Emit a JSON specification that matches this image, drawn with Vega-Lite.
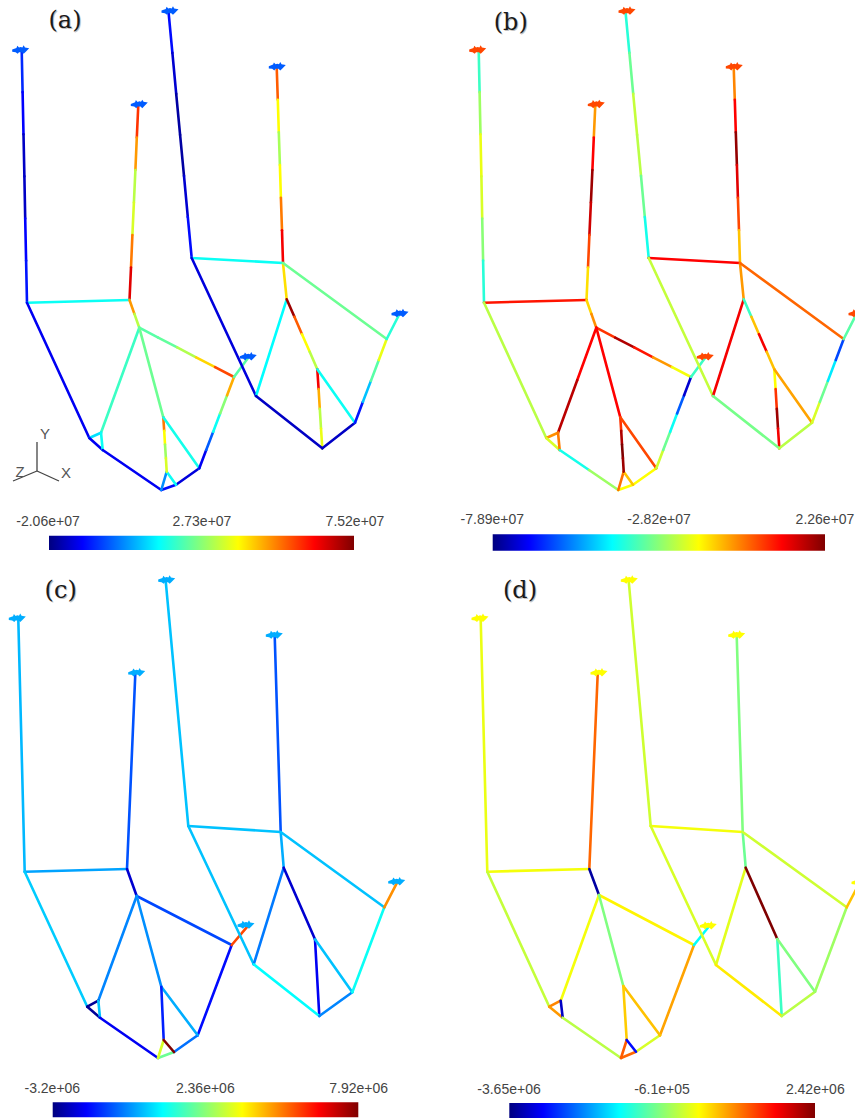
{"$schema":"https://vega.github.io/schema/vega-lite/v6.json","width":855,"height":1118,"padding":0,"autosize":"none","background":"white","view":{"stroke":null},
"datasets":{
"members":[
{"p":"a","m":"T1","x":21.7,"y":50,"x2":22.6,"y2":92.1,"v":0.15},{"p":"a","m":"T1","x":22.6,"y":92.1,"x2":23.5,"y2":134.2,"v":0.11},{"p":"a","m":"T1","x":23.5,"y":134.2,"x2":24.4,"y2":176.4,"v":0.06},{"p":"a","m":"T1","x":24.4,"y":176.4,"x2":25.2,"y2":218.5,"v":0.06},{"p":"a","m":"T1","x":25.2,"y":218.5,"x2":26.1,"y2":260.6,"v":0.11},{"p":"a","m":"T1","x":26.1,"y":260.6,"x2":27,"y2":302.7,"v":0.13},
{"p":"a","m":"T2","x":138.3,"y":105,"x2":136.8,"y2":137.5,"v":0.82},{"p":"a","m":"T2","x":136.8,"y":137.5,"x2":135.4,"y2":170,"v":0.72},{"p":"a","m":"T2","x":135.4,"y":170,"x2":133.9,"y2":202.5,"v":0.55},{"p":"a","m":"T2","x":133.9,"y":202.5,"x2":132.4,"y2":235,"v":0.58},{"p":"a","m":"T2","x":132.4,"y":235,"x2":131,"y2":267.5,"v":0.75},{"p":"a","m":"T2","x":131,"y":267.5,"x2":129.5,"y2":300,"v":0.9},
{"p":"a","m":"T3","x":168.5,"y":11.7,"x2":172.4,"y2":52.8,"v":0.12},{"p":"a","m":"T3","x":172.4,"y":52.8,"x2":176.2,"y2":93.8,"v":0.07},{"p":"a","m":"T3","x":176.2,"y":93.8,"x2":180.1,"y2":134.9,"v":0.03},{"p":"a","m":"T3","x":180.1,"y":134.9,"x2":184,"y2":175.9,"v":0.03},{"p":"a","m":"T3","x":184,"y":175.9,"x2":187.8,"y2":217,"v":0.07},{"p":"a","m":"T3","x":187.8,"y":217,"x2":191.7,"y2":258,"v":0.12},
{"p":"a","m":"T4","x":276.7,"y":67,"x2":277.8,"y2":99.7,"v":0.78},{"p":"a","m":"T4","x":277.8,"y":99.7,"x2":278.8,"y2":132.3,"v":0.62},{"p":"a","m":"T4","x":278.8,"y":132.3,"x2":279.9,"y2":165,"v":0.53},{"p":"a","m":"T4","x":279.9,"y":165,"x2":280.9,"y2":197.7,"v":0.62},{"p":"a","m":"T4","x":280.9,"y":197.7,"x2":282,"y2":230.3,"v":0.75},{"p":"a","m":"T4","x":282,"y":230.3,"x2":283,"y2":263,"v":0.88},
{"p":"a","m":"B1B2","x":27,"y":302.7,"x2":129.5,"y2":300,"v":0.37},{"p":"a","m":"B3B4","x":191.7,"y":258,"x2":283,"y2":263,"v":0.37},
{"p":"a","m":"B2C","x":129.5,"y":300,"x2":134.4,"y2":313.9,"v":0.72},{"p":"a","m":"B2C","x":134.4,"y":313.9,"x2":139.3,"y2":327.7,"v":0.55},
{"p":"a","m":"CD","x":139.3,"y":327.7,"x2":158.2,"y2":337.6,"v":0.45},{"p":"a","m":"CD","x":158.2,"y":337.6,"x2":177.2,"y2":347.4,"v":0.46},{"p":"a","m":"CD","x":177.2,"y":347.4,"x2":196.1,"y2":357.3,"v":0.54},{"p":"a","m":"CD","x":196.1,"y":357.3,"x2":215.1,"y2":367.1,"v":0.66},{"p":"a","m":"CD","x":215.1,"y":367.1,"x2":234,"y2":377,"v":0.8},
{"p":"a","m":"CE","x":139.3,"y":327.7,"x2":101,"y2":432.7,"v":0.42},{"p":"a","m":"CF","x":139.3,"y":327.7,"x2":163.3,"y2":417.3,"v":0.47},
{"p":"a","m":"B1G","x":27,"y":302.7,"x2":89.3,"y2":438,"v":0.1},{"p":"a","m":"GE","x":89.3,"y":438,"x2":101,"y2":432.7,"v":0.33},{"p":"a","m":"GH","x":89.3,"y":438,"x2":102.7,"y2":450,"v":0.1},{"p":"a","m":"EH","x":101,"y":432.7,"x2":102.7,"y2":450,"v":0.37},
{"p":"a","m":"HI","x":102.7,"y":450,"x2":161.3,"y2":490,"v":0.1},{"p":"a","m":"IJ","x":161.3,"y":490,"x2":176,"y2":484.7,"v":0.12},{"p":"a","m":"JK","x":176,"y":484.7,"x2":199.3,"y2":468.3,"v":0.08},{"p":"a","m":"IL","x":161.3,"y":490,"x2":166.7,"y2":471.7,"v":0.25},{"p":"a","m":"LJ","x":166.7,"y":471.7,"x2":176,"y2":484.7,"v":0.37},
{"p":"a","m":"FL","x":163.3,"y":417.3,"x2":164.2,"y2":430.9,"v":0.75},{"p":"a","m":"FL","x":164.2,"y":430.9,"x2":165,"y2":444.5,"v":0.62},{"p":"a","m":"FL","x":165,"y":444.5,"x2":165.9,"y2":458.1,"v":0.52},{"p":"a","m":"FL","x":165.9,"y":458.1,"x2":166.7,"y2":471.7,"v":0.58},
{"p":"a","m":"FK","x":163.3,"y":417.3,"x2":199.3,"y2":468.3,"v":0.38},
{"p":"a","m":"KD","x":199.3,"y":468.3,"x2":206.2,"y2":450,"v":0.1},{"p":"a","m":"KD","x":206.2,"y":450,"x2":213.2,"y2":431.8,"v":0.2},{"p":"a","m":"KD","x":213.2,"y":431.8,"x2":220.1,"y2":413.5,"v":0.37},{"p":"a","m":"KD","x":220.1,"y":413.5,"x2":227.1,"y2":395.3,"v":0.5},{"p":"a","m":"KD","x":227.1,"y":395.3,"x2":234,"y2":377,"v":0.7},
{"p":"a","m":"DM","x":234,"y":377,"x2":248,"y2":358,"v":0.45},
{"p":"a","m":"B3P","x":191.7,"y":258,"x2":256,"y2":396,"v":0.08},{"p":"a","m":"PN","x":256,"y":396,"x2":286.7,"y2":299.3,"v":0.36},{"p":"a","m":"B4N","x":283,"y":263,"x2":286.7,"y2":299.3,"v":0.65},
{"p":"a","m":"NQ","x":286.7,"y":299.3,"x2":294.4,"y2":316.8,"v":0.97},{"p":"a","m":"NQ","x":294.4,"y":316.8,"x2":302,"y2":334.3,"v":0.78},{"p":"a","m":"NQ","x":302,"y":334.3,"x2":309.7,"y2":351.8,"v":0.62},{"p":"a","m":"NQ","x":309.7,"y":351.8,"x2":317.3,"y2":369.3,"v":0.55},
{"p":"a","m":"QR","x":317.3,"y":369.3,"x2":318.6,"y2":389,"v":0.88},{"p":"a","m":"QR","x":318.6,"y":389,"x2":319.8,"y2":408.8,"v":0.7},{"p":"a","m":"QR","x":319.8,"y":408.8,"x2":321,"y2":428.5,"v":0.55},{"p":"a","m":"QR","x":321,"y":428.5,"x2":322.3,"y2":448.3,"v":0.6},
{"p":"a","m":"PR","x":256,"y":396,"x2":322.3,"y2":448.3,"v":0.06},{"p":"a","m":"RS","x":322.3,"y":448.3,"x2":355,"y2":422.7,"v":0.06},{"p":"a","m":"SQ","x":355,"y":422.7,"x2":317.3,"y2":369.3,"v":0.37},
{"p":"a","m":"SU","x":355,"y":422.7,"x2":362.9,"y2":401.8,"v":0.13},{"p":"a","m":"SU","x":362.9,"y":401.8,"x2":370.9,"y2":380.9,"v":0.3},{"p":"a","m":"SU","x":370.9,"y":380.9,"x2":378.8,"y2":360,"v":0.45},{"p":"a","m":"SU","x":378.8,"y":360,"x2":386.7,"y2":339,"v":0.6},
{"p":"a","m":"B4U","x":283,"y":263,"x2":386.7,"y2":339,"v":0.47},{"p":"a","m":"UV","x":386.7,"y":339,"x2":400,"y2":313,"v":0.4},

{"p":"b","m":"T1","x":478.7,"y":50,"x2":479.6,"y2":92.1,"v":0.42},{"p":"b","m":"T1","x":479.6,"y":92.1,"x2":480.5,"y2":134.2,"v":0.52},{"p":"b","m":"T1","x":480.5,"y":134.2,"x2":481.4,"y2":176.4,"v":0.6},{"p":"b","m":"T1","x":481.4,"y":176.4,"x2":482.2,"y2":218.5,"v":0.58},{"p":"b","m":"T1","x":482.2,"y":218.5,"x2":483.1,"y2":260.6,"v":0.5},{"p":"b","m":"T1","x":483.1,"y":260.6,"x2":484,"y2":302.7,"v":0.4},
{"p":"b","m":"T2","x":595.3,"y":105,"x2":593.8,"y2":137.5,"v":0.72},{"p":"b","m":"T2","x":593.8,"y":137.5,"x2":592.4,"y2":170,"v":0.87},{"p":"b","m":"T2","x":592.4,"y":170,"x2":590.9,"y2":202.5,"v":0.97},{"p":"b","m":"T2","x":590.9,"y":202.5,"x2":589.4,"y2":235,"v":0.92},{"p":"b","m":"T2","x":589.4,"y":235,"x2":588,"y2":267.5,"v":0.8},{"p":"b","m":"T2","x":588,"y":267.5,"x2":586.5,"y2":300,"v":0.65},
{"p":"b","m":"T3","x":625.5,"y":11.7,"x2":629.4,"y2":52.8,"v":0.4},{"p":"b","m":"T3","x":629.4,"y":52.8,"x2":633.2,"y2":93.8,"v":0.47},{"p":"b","m":"T3","x":633.2,"y":93.8,"x2":637.1,"y2":134.9,"v":0.56},{"p":"b","m":"T3","x":637.1,"y":134.9,"x2":641,"y2":175.9,"v":0.55},{"p":"b","m":"T3","x":641,"y":175.9,"x2":644.8,"y2":217,"v":0.47},{"p":"b","m":"T3","x":644.8,"y":217,"x2":648.7,"y2":258,"v":0.38},
{"p":"b","m":"T4","x":733.7,"y":67,"x2":734.8,"y2":99.7,"v":0.74},{"p":"b","m":"T4","x":734.8,"y":99.7,"x2":735.8,"y2":132.3,"v":0.87},{"p":"b","m":"T4","x":735.8,"y":132.3,"x2":736.9,"y2":165,"v":0.98},{"p":"b","m":"T4","x":736.9,"y":165,"x2":737.9,"y2":197.7,"v":0.9},{"p":"b","m":"T4","x":737.9,"y":197.7,"x2":739,"y2":230.3,"v":0.8},{"p":"b","m":"T4","x":739,"y":230.3,"x2":740,"y2":263,"v":0.68},
{"p":"b","m":"B1B2","x":484,"y":302.7,"x2":586.5,"y2":300,"v":0.85},{"p":"b","m":"B3B4","x":648.7,"y":258,"x2":740,"y2":263,"v":0.87},
{"p":"b","m":"B2C","x":586.5,"y":300,"x2":591.4,"y2":313.9,"v":0.66},{"p":"b","m":"B2C","x":591.4,"y":313.9,"x2":596.3,"y2":327.7,"v":0.73},
{"p":"b","m":"CD","x":596.3,"y":327.7,"x2":615.2,"y2":337.6,"v":0.82},{"p":"b","m":"CD","x":615.2,"y":337.6,"x2":634.2,"y2":347.4,"v":0.95},{"p":"b","m":"CD","x":634.2,"y":347.4,"x2":653.1,"y2":357.3,"v":0.85},{"p":"b","m":"CD","x":653.1,"y":357.3,"x2":672.1,"y2":367.1,"v":0.72},{"p":"b","m":"CD","x":672.1,"y":367.1,"x2":691,"y2":377,"v":0.61},
{"p":"b","m":"CE","x":596.3,"y":327.7,"x2":577.2,"y2":380.2,"v":0.87},{"p":"b","m":"CE","x":577.2,"y":380.2,"x2":558,"y2":432.7,"v":0.94},{"p":"b","m":"CF","x":596.3,"y":327.7,"x2":620.3,"y2":417.3,"v":0.87},
{"p":"b","m":"B1G","x":484,"y":302.7,"x2":546.3,"y2":438,"v":0.55},{"p":"b","m":"GE","x":546.3,"y":438,"x2":558,"y2":432.7,"v":0.73},{"p":"b","m":"GH","x":546.3,"y":438,"x2":559.7,"y2":450,"v":0.58},{"p":"b","m":"EH","x":558,"y":432.7,"x2":559.7,"y2":450,"v":0.75},
{"p":"b","m":"HI","x":559.7,"y":450,"x2":589,"y2":470,"v":0.38},{"p":"b","m":"HI","x":589,"y":470,"x2":618.3,"y2":490,"v":0.52},{"p":"b","m":"IJ","x":618.3,"y":490,"x2":633,"y2":484.7,"v":0.62},{"p":"b","m":"JK","x":633,"y":484.7,"x2":656.3,"y2":468.3,"v":0.62},{"p":"b","m":"IL","x":618.3,"y":490,"x2":623.7,"y2":471.7,"v":0.76},{"p":"b","m":"LJ","x":623.7,"y":471.7,"x2":633,"y2":484.7,"v":0.68},
{"p":"b","m":"FL","x":620.3,"y":417.3,"x2":621.2,"y2":430.9,"v":0.82},{"p":"b","m":"FL","x":621.2,"y":430.9,"x2":622,"y2":444.5,"v":0.95},{"p":"b","m":"FL","x":622,"y":444.5,"x2":622.9,"y2":458.1,"v":1},{"p":"b","m":"FL","x":622.9,"y":458.1,"x2":623.7,"y2":471.7,"v":0.97},
{"p":"b","m":"FK","x":620.3,"y":417.3,"x2":656.3,"y2":468.3,"v":0.8},
{"p":"b","m":"KD","x":656.3,"y":468.3,"x2":663.2,"y2":450,"v":0.57},{"p":"b","m":"KD","x":663.2,"y":450,"x2":670.2,"y2":431.8,"v":0.47},{"p":"b","m":"KD","x":670.2,"y":431.8,"x2":677.1,"y2":413.5,"v":0.37},{"p":"b","m":"KD","x":677.1,"y":413.5,"x2":684.1,"y2":395.3,"v":0.2},{"p":"b","m":"KD","x":684.1,"y":395.3,"x2":691,"y2":377,"v":0.07},
{"p":"b","m":"DM","x":691,"y":377,"x2":705,"y2":358,"v":0.42},
{"p":"b","m":"B3P","x":648.7,"y":258,"x2":713,"y2":396,"v":0.56},{"p":"b","m":"PN","x":713,"y":396,"x2":743.7,"y2":299.3,"v":0.88},{"p":"b","m":"B4N","x":740,"y":263,"x2":743.7,"y2":299.3,"v":0.72},
{"p":"b","m":"NQ","x":743.7,"y":299.3,"x2":751.4,"y2":316.8,"v":0.42},{"p":"b","m":"NQ","x":751.4,"y":316.8,"x2":759,"y2":334.3,"v":0.68},{"p":"b","m":"NQ","x":759,"y":334.3,"x2":766.7,"y2":351.8,"v":0.88},{"p":"b","m":"NQ","x":766.7,"y":351.8,"x2":774.3,"y2":369.3,"v":0.68},
{"p":"b","m":"QR","x":774.3,"y":369.3,"x2":775.6,"y2":389,"v":0.62},{"p":"b","m":"QR","x":775.6,"y":389,"x2":776.8,"y2":408.8,"v":0.82},{"p":"b","m":"QR","x":776.8,"y":408.8,"x2":778,"y2":428.5,"v":0.97},{"p":"b","m":"QR","x":778,"y":428.5,"x2":779.3,"y2":448.3,"v":0.88},
{"p":"b","m":"PR","x":713,"y":396,"x2":779.3,"y2":448.3,"v":0.48},{"p":"b","m":"RS","x":779.3,"y":448.3,"x2":812,"y2":422.7,"v":0.55},{"p":"b","m":"SQ","x":812,"y":422.7,"x2":774.3,"y2":369.3,"v":0.71},
{"p":"b","m":"SU","x":812,"y":422.7,"x2":819.9,"y2":401.8,"v":0.58},{"p":"b","m":"SU","x":819.9,"y":401.8,"x2":827.9,"y2":380.9,"v":0.47},{"p":"b","m":"SU","x":827.9,"y":380.9,"x2":835.8,"y2":360,"v":0.34},{"p":"b","m":"SU","x":835.8,"y":360,"x2":843.7,"y2":339,"v":0.18},
{"p":"b","m":"B4U","x":740,"y":263,"x2":843.7,"y2":339,"v":0.77},{"p":"b","m":"UV","x":843.7,"y":339,"x2":857,"y2":313,"v":0.45},

{"p":"c","m":"T1","x":18.3,"y":619.3,"x2":24.7,"y2":871.7,"v":0.29},{"p":"c","m":"T2","x":135.3,"y":674,"x2":127,"y2":869,"v":0.19},{"p":"c","m":"T3","x":165.7,"y":581,"x2":188.3,"y2":826,"v":0.3},{"p":"c","m":"T4","x":274.7,"y":635.7,"x2":280.7,"y2":832,"v":0.19},
{"p":"c","m":"B1B2","x":24.7,"y":871.7,"x2":127,"y2":869,"v":0.27},{"p":"c","m":"B3B4","x":188.3,"y":826,"x2":280.7,"y2":832,"v":0.3},{"p":"c","m":"B2C","x":127,"y":869,"x2":136.7,"y2":896,"v":0.07},{"p":"c","m":"CD","x":136.7,"y":896,"x2":231.7,"y2":945,"v":0.18},{"p":"c","m":"CE","x":136.7,"y":896,"x2":98.3,"y2":1000.7,"v":0.24},{"p":"c","m":"CF","x":136.7,"y":896,"x2":161.3,"y2":986.7,"v":0.25},
{"p":"c","m":"B1G","x":24.7,"y":871.7,"x2":87.3,"y2":1006.7,"v":0.31},{"p":"c","m":"GE","x":87.3,"y":1006.7,"x2":98.3,"y2":1000.7,"v":0.02},{"p":"c","m":"GH","x":87.3,"y":1006.7,"x2":100,"y2":1017.7,"v":0.02},{"p":"c","m":"EH","x":98.3,"y":1000.7,"x2":100,"y2":1017.7,"v":0.3},{"p":"c","m":"HI","x":100,"y":1017.7,"x2":158,"y2":1058,"v":0.1},{"p":"c","m":"IJ","x":158,"y":1058,"x2":174,"y2":1052,"v":0.47},{"p":"c","m":"JK","x":174,"y":1052,"x2":197.7,"y2":1035.3,"v":0.22},{"p":"c","m":"KD","x":197.7,"y":1035.3,"x2":231.7,"y2":945,"v":0.12},{"p":"c","m":"FK","x":161.3,"y":986.7,"x2":197.7,"y2":1035.3,"v":0.28},{"p":"c","m":"FL","x":161.3,"y":986.7,"x2":163.7,"y2":1040,"v":0.14},{"p":"c","m":"LI","x":163.7,"y":1040,"x2":158,"y2":1058,"v":0.58},{"p":"c","m":"LJ","x":163.7,"y":1040,"x2":174,"y2":1052,"v":1},{"p":"c","m":"DM","x":231.7,"y":945,"x2":247.3,"y2":926.7,"v":0.8},
{"p":"c","m":"B3P","x":188.3,"y":826,"x2":253.7,"y2":964.3,"v":0.3},{"p":"c","m":"PN","x":253.7,"y":964.3,"x2":283.7,"y2":867.7,"v":0.23},{"p":"c","m":"B4N","x":280.7,"y":832,"x2":283.7,"y2":867.7,"v":0.28},{"p":"c","m":"NQ","x":283.7,"y":867.7,"x2":315,"y2":939.3,"v":0.07},{"p":"c","m":"QR","x":315,"y":939.3,"x2":319.3,"y2":1016,"v":0.1},{"p":"c","m":"PR","x":253.7,"y":964.3,"x2":319.3,"y2":1016,"v":0.36},{"p":"c","m":"RS","x":319.3,"y":1016,"x2":352.3,"y2":992.3,"v":0.24},{"p":"c","m":"SQ","x":352.3,"y":992.3,"x2":315,"y2":939.3,"v":0.3},{"p":"c","m":"SU","x":352.3,"y":992.3,"x2":384.3,"y2":907.3,"v":0.37},{"p":"c","m":"B4U","x":280.7,"y":832,"x2":384.3,"y2":907.3,"v":0.3},{"p":"c","m":"UV","x":384.3,"y":907.3,"x2":396.7,"y2":883.3,"v":0.73},

{"p":"d","m":"T1","x":480.7,"y":619.3,"x2":487.3,"y2":871.7,"v":0.6},{"p":"d","m":"T2","x":597.7,"y":674,"x2":589.3,"y2":869,"v":0.77},{"p":"d","m":"T3","x":628.7,"y":581,"x2":650.7,"y2":826,"v":0.57},{"p":"d","m":"T4","x":736.7,"y":635.7,"x2":742.7,"y2":832,"v":0.49},
{"p":"d","m":"B1B2","x":487.3,"y":871.7,"x2":589.3,"y2":869,"v":0.61},{"p":"d","m":"B3B4","x":650.7,"y":826,"x2":742.7,"y2":832,"v":0.61},{"p":"d","m":"B2C","x":589.3,"y":869,"x2":599,"y2":895,"v":0.03},{"p":"d","m":"CD","x":599,"y":895,"x2":694,"y2":945,"v":0.63},{"p":"d","m":"CE","x":599,"y":895,"x2":560.7,"y2":1000.7,"v":0.61},{"p":"d","m":"CF","x":599,"y":895,"x2":623.3,"y2":986,"v":0.49},
{"p":"d","m":"B1G","x":487.3,"y":871.7,"x2":549.3,"y2":1006.7,"v":0.56},{"p":"d","m":"GE","x":549.3,"y":1006.7,"x2":560.7,"y2":1000.7,"v":0.74},{"p":"d","m":"GH","x":549.3,"y":1006.7,"x2":562.7,"y2":1017.7,"v":0.72},{"p":"d","m":"EH","x":560.7,"y":1000.7,"x2":562.7,"y2":1017.7,"v":0.06},{"p":"d","m":"HI","x":562.7,"y":1017.7,"x2":621,"y2":1058,"v":0.55},{"p":"d","m":"IJ","x":621,"y":1058,"x2":636,"y2":1051.7,"v":0.77},{"p":"d","m":"JK","x":636,"y":1051.7,"x2":660,"y2":1035.3,"v":0.58},{"p":"d","m":"KD","x":660,"y":1035.3,"x2":694,"y2":945,"v":0.71},{"p":"d","m":"FK","x":623.3,"y":986,"x2":660,"y2":1035.3,"v":0.68},{"p":"d","m":"FL","x":623.3,"y":986,"x2":626.7,"y2":1040,"v":0.67},{"p":"d","m":"LI","x":626.7,"y":1040,"x2":621,"y2":1058,"v":0.78},{"p":"d","m":"LJ","x":626.7,"y":1040,"x2":636,"y2":1051.7,"v":0.12},{"p":"d","m":"DM","x":694,"y":945,"x2":709.3,"y2":926,"v":0.36},
{"p":"d","m":"B3P","x":650.7,"y":826,"x2":716,"y2":965,"v":0.58},{"p":"d","m":"PN","x":716,"y":965,"x2":745.7,"y2":867.7,"v":0.59},{"p":"d","m":"B4N","x":742.7,"y":832,"x2":745.7,"y2":867.7,"v":0.47},{"p":"d","m":"NQ","x":745.7,"y":867.7,"x2":777.3,"y2":939,"v":1},{"p":"d","m":"QR","x":777.3,"y":939,"x2":781.7,"y2":1016,"v":0.42},{"p":"d","m":"PR","x":716,"y":965,"x2":781.7,"y2":1016,"v":0.64},{"p":"d","m":"RS","x":781.7,"y":1016,"x2":815,"y2":991.7,"v":0.55},{"p":"d","m":"SQ","x":815,"y":991.7,"x2":777.3,"y2":939,"v":0.49},{"p":"d","m":"SU","x":815,"y":991.7,"x2":846.7,"y2":907.3,"v":0.52},{"p":"d","m":"B4U","x":742.7,"y":832,"x2":846.7,"y2":907.3,"v":0.57},{"p":"d","m":"UV","x":846.7,"y":907.3,"x2":860,"y2":882,"v":0.68}
],
"supports":[
{"p":"a","x":20.7,"y":50,"v":0.2},{"p":"a","x":139.3,"y":104.3,"v":0.2},{"p":"a","x":170,"y":11,"v":0.2},{"p":"a","x":277.3,"y":66.7,"v":0.2},{"p":"a","x":248.3,"y":356.7,"v":0.2},{"p":"a","x":400,"y":313.5,"v":0.2},
{"p":"b","x":477.7,"y":50,"v":0.8},{"p":"b","x":596.3,"y":104.3,"v":0.8},{"p":"b","x":627,"y":11,"v":0.8},{"p":"b","x":734.3,"y":66.7,"v":0.8},{"p":"b","x":705.3,"y":356.7,"v":0.8},{"p":"b","x":857,"y":313.5,"v":0.8},
{"p":"c","x":17.3,"y":618.3,"v":0.28},{"p":"c","x":136.7,"y":672.7,"v":0.28},{"p":"c","x":166.7,"y":580,"v":0.28},{"p":"c","x":274.3,"y":635,"v":0.28},{"p":"c","x":246,"y":925,"v":0.28},{"p":"c","x":396.7,"y":881.7,"v":0.28},
{"p":"d","x":480,"y":618.3,"v":0.62},{"p":"d","x":599,"y":672.7,"v":0.62},{"p":"d","x":629.3,"y":580,"v":0.62},{"p":"d","x":736.7,"y":635,"v":0.62},{"p":"d","x":708.3,"y":925.7,"v":0.62},{"p":"d","x":860,"y":882.3,"v":0.62}
],
"bars":[
{"p":"a","x":49,"x2":354,"y":535.7,"y2":550},{"p":"b","x":492.7,"x2":825,"y":534.3,"y2":550.7},{"p":"c","x":52.7,"x2":358.3,"y":1102.3,"y2":1117.3},{"p":"d","x":509.3,"x2":815,"y":1103,"y2":1118}
],
"ticks":[
{"p":"a","x":48,"y":522,"t":"-2.06e+07"},{"p":"a","x":202,"y":522,"t":"2.73e+07"},{"p":"a","x":355,"y":522,"t":"7.52e+07"},
{"p":"b","x":492.3,"y":520,"t":"-7.89e+07"},{"p":"b","x":659,"y":520,"t":"-2.82e+07"},{"p":"b","x":825,"y":520,"t":"2.26e+07"},
{"p":"c","x":52.3,"y":1089,"t":"-3.2e+06"},{"p":"c","x":205.3,"y":1089,"t":"2.36e+06"},{"p":"c","x":358.7,"y":1089,"t":"7.92e+06"},
{"p":"d","x":509,"y":1090,"t":"-3.65e+06"},{"p":"d","x":662,"y":1090,"t":"-6.1e+05"},{"p":"d","x":815.3,"y":1090,"t":"2.42e+06"}
],
"panels":[{"x":65,"y":21,"t":"(a)"},{"x":510.7,"y":23,"t":"(b)"},{"x":60.7,"y":591,"t":"(c)"},{"x":520,"y":591,"t":"(d)"}],
"triad":[{"x":37,"y":471,"x2":37,"y2":442},{"x":37,"y":471,"x2":59,"y2":481},{"x":37,"y":471,"x2":13,"y2":481}],
"triadLabels":[{"x":45,"y":434,"t":"Y"},{"x":66,"y":473,"t":"X"},{"x":20,"y":472,"t":"Z"}]
},
"encoding":{
"x":{"field":"x","type":"quantitative","scale":{"domain":[0,855],"nice":false,"zero":false},"axis":null},
"y":{"field":"y","type":"quantitative","scale":{"domain":[0,1118],"reverse":true,"nice":false,"zero":false},"axis":null}
},
"layer":[
{"data":{"name":"members"},"mark":{"type":"rule","strokeWidth":2.6,"strokeCap":"round"},"encoding":{"x2":{"field":"x2"},"y2":{"field":"y2"},"color":{"field":"v","type":"quantitative","legend":null,"scale":{"domain":[0,0.11,0.36,0.62,0.87,1],"range":["#00007f","#0000ff","#00ffff","#ffff00","#ff0000","#7f0000"],"interpolate":"rgb"}}}},
{"data":{"name":"supports"},"mark":{"type":"point","filled":true,"opacity":1,"shape":"M-1,-0.05 L-0.5,-0.25 L-0.4,-0.5 L-0.2,-0.28 L0,-0.35 L0.2,-0.3 L0.35,-0.55 L0.5,-0.3 L1,-0.2 L0.6,0.2 L0.35,0.45 L0.15,0.25 L-0.2,0.25 L-0.35,0.45 L-0.6,0.25 L-1,0.2 Z","size":289},"encoding":{"color":{"field":"v","type":"quantitative","legend":null}}},
{"data":{"name":"bars"},"mark":{"type":"rect","fill":{"gradient":"linear","x1":0,"y1":0,"x2":1,"y2":0,"stops":[{"offset":0,"color":"#00007f"},{"offset":0.11,"color":"#0000ff"},{"offset":0.36,"color":"#00ffff"},{"offset":0.62,"color":"#ffff00"},{"offset":0.87,"color":"#ff0000"},{"offset":1,"color":"#7f0000"}]}},"encoding":{"x2":{"field":"x2"},"y2":{"field":"y2"}}},
{"data":{"name":"ticks"},"mark":{"type":"text","font":"Liberation Sans","fontSize":14,"fill":"#444444","align":"center","baseline":"middle"},"encoding":{"text":{"field":"t"}}},
{"data":{"name":"panels"},"mark":{"type":"text","font":"DejaVu Serif","fontSize":24,"fill":"#999999","opacity":0.6,"align":"center","baseline":"middle","dx":1,"dy":1},"encoding":{"text":{"field":"t"}}},
{"data":{"name":"panels"},"mark":{"type":"text","font":"DejaVu Serif","fontSize":24,"fill":"#1a1a1a","align":"center","baseline":"middle"},"encoding":{"text":{"field":"t"}}},
{"data":{"name":"triad"},"mark":{"type":"rule","strokeWidth":1.3,"color":"#444444"},"encoding":{"x2":{"field":"x2"},"y2":{"field":"y2"}}},
{"data":{"name":"triadLabels"},"mark":{"type":"text","font":"Liberation Sans","fontSize":15,"fill":"#555555","align":"center","baseline":"middle"},"encoding":{"text":{"field":"t"}}}
]}
